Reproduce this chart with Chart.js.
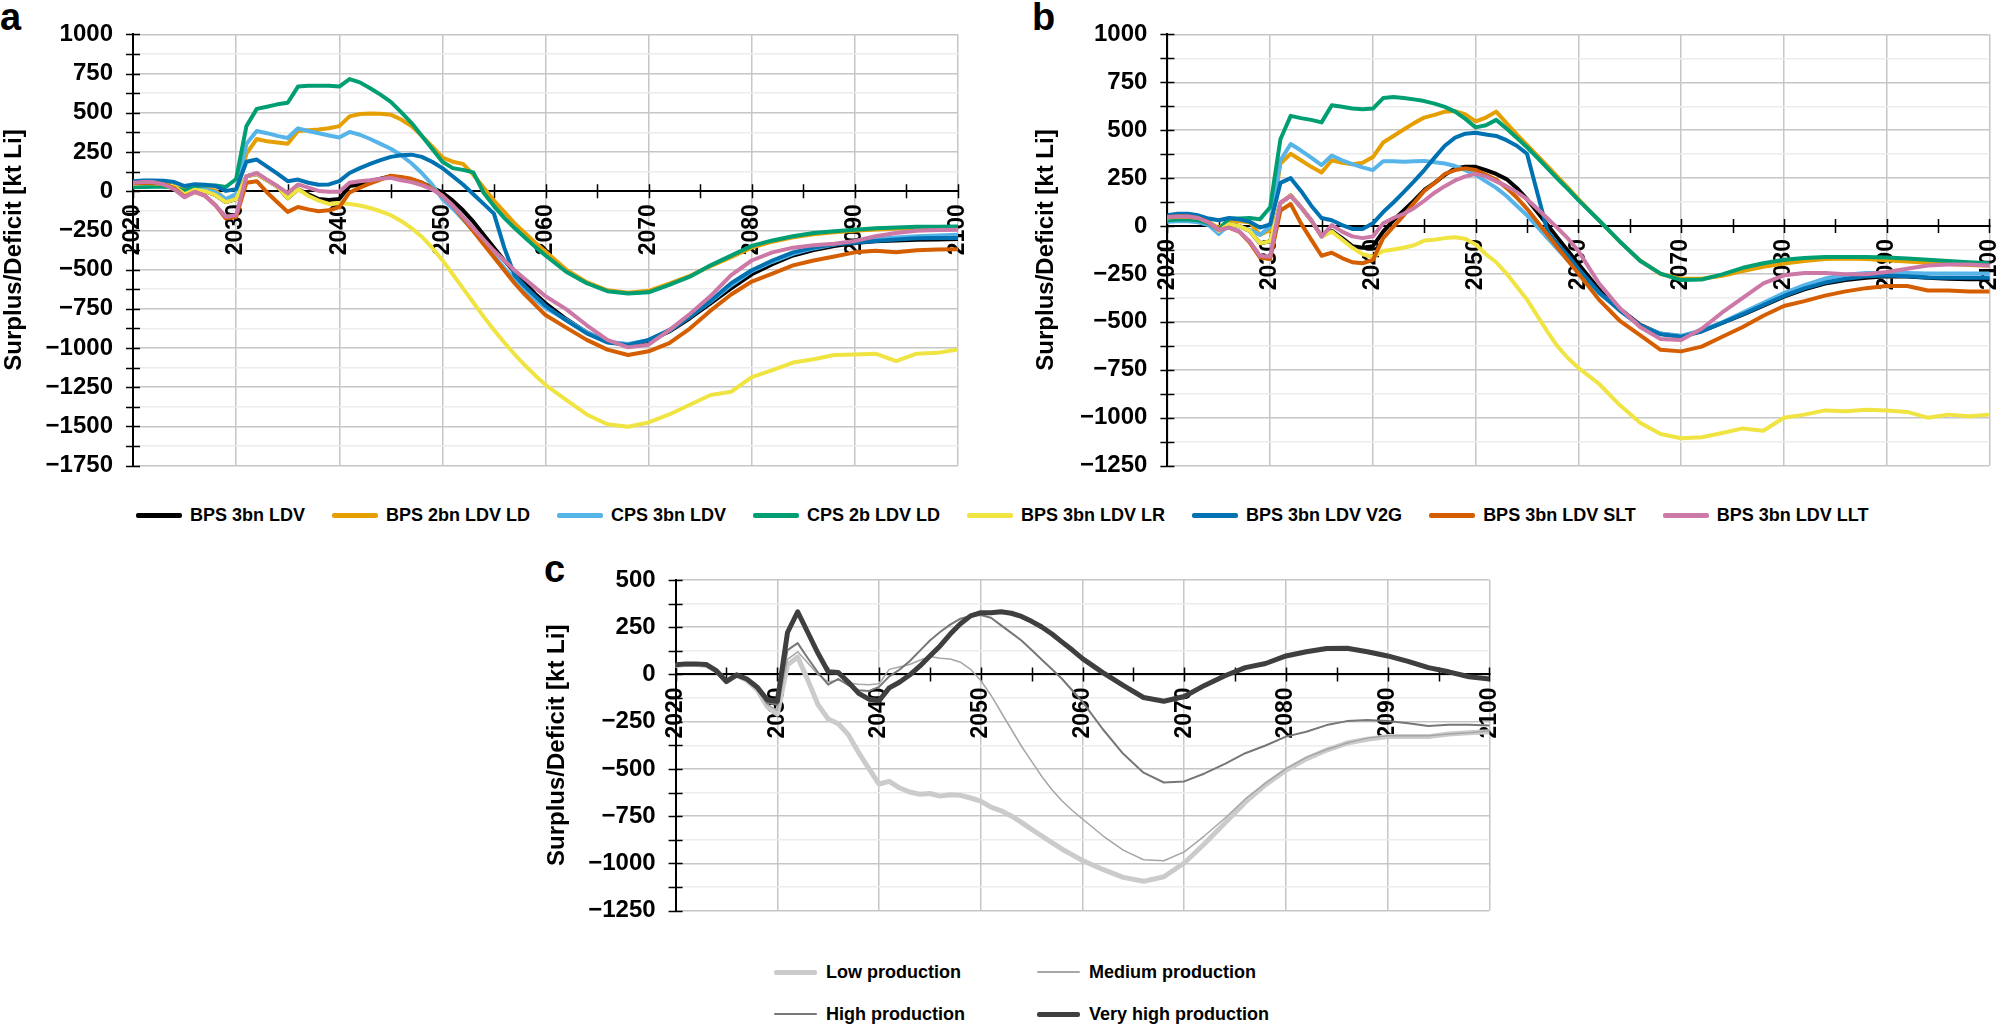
<!DOCTYPE html>
<html>
<head>
<meta charset="utf-8">
<script src="https://cdn.jsdelivr.net/npm/chart.js@4.4.1/dist/chart.umd.min.js"></script>
<style>
html,body{margin:0;padding:0;background:#fff;overflow:hidden;width:2002px;height:1024px;}
body{position:relative;font-family:"Liberation Sans",Arial,Helvetica,sans-serif;font-weight:bold;color:#000;}
canvas{position:absolute;}
.plabel{position:absolute;font-size:38px;font-weight:bold;line-height:1;}
.legendTop{position:absolute;left:136px;top:503px;height:24px;display:flex;align-items:center;gap:27px;font-size:18px;white-space:nowrap;}
.legendC{position:absolute;left:774px;top:960px;display:grid;grid-template-columns:263px auto;row-gap:18px;font-size:18px;white-space:nowrap;}
.item{display:flex;align-items:center;height:24px;line-height:24px;}
.sw{border-radius:2px;}
</style>
</head>
<body>
<div class="plabel" style="left:0px;top:-2px;">a</div>
<div class="plabel" style="left:1032px;top:-2px;">b</div>
<div class="plabel" style="left:544px;top:550px;">c</div>
<canvas id="ca" width="1000" height="500" style="left:0px;top:0px;width:1000px;height:500px;"></canvas>
<canvas id="cb" width="1030" height="500" style="left:1000px;top:0px;width:1030px;height:500px;"></canvas>
<canvas id="cc" width="1000" height="400" style="left:530px;top:545px;width:1000px;height:400px;"></canvas>
<div id="legTop" class="legendTop"></div>
<div id="legC" class="legendC"></div>
<script>
// ---------- DATA ----------
const years = [2020,2021,2022,2023,2024,2025,2026,2027,2028,2029,2030,
  2031,2032,2033,2034,2035,2036,2037,2038,2039,2040,
  2041,2042,2043,2044,2045,2046,2047,2048,2049,2050,
  2051,2052,2053,2054,2055,2056,2057,2058,2059,2060,
  2062,2064,2066,2068,2070,2072,2074,2076,2078,2080,2082,2084,2086,2088,2090,2092,2094,2096,2098,2100];

const labelsAB = ['BPS 3bn LDV','BPS 2bn LDV LD','CPS 3bn LDV','CPS 2b LDV LD','BPS 3bn LDV LR','BPS 3bn LDV V2G','BPS 3bn LDV SLT','BPS 3bn LDV LLT'];
const labelsC = ['Low production','Medium production','High production','Very high production'];
const yTitle = 'Surplus/Deficit [kt Li]';

// Panel a
const aBlack = [48,50,50,45,30,-20,10,0,-25,-70,-50,
  95,110,70,30,-45,12,-20,-50,-56,-50,
  33,43,64,80,95,85,74,54,23,-8,
  -60,-122,-194,-277,-360,-442,-514,-587,-655,-715,
  -815,-900,-960,-980,-955,-895,-810,-715,-620,-530,-465,-410,-375,-350,-330,-320,-315,-310,-308,-305];
const aOrange = [38,40,40,35,25,10,20,15,5,-55,-25,
  240,333,318,310,302,384,388,393,401,415,
  477,492,496,494,488,457,415,353,285,215,
  188,174,105,23,-60,-132,-205,-267,-329,-385,
  -500,-580,-632,-648,-635,-590,-540,-478,-420,-360,-322,-294,-274,-262,-252,-244,-238,-234,-232,-230];
const aLightBlue = [43,44,44,40,25,-29,23,12,-8,-50,-19,
  302,384,370,353,339,401,384,370,355,343,
  378,360,333,302,271,229,178,116,43,-50,
  -110,-180,-250,-330,-410,-490,-560,-630,-690,-745,
  -820,-900,-960,-975,-950,-890,-800,-705,-600,-510,-450,-400,-365,-340,-320,-305,-295,-288,-282,-277];
const aGreen = [27,27,29,29,23,2,33,37,37,27,78,
  415,525,539,554,564,667,673,673,673,667,
  715,694,657,616,570,504,436,353,271,188,
  147,136,120,-10,-95,-170,-235,-295,-355,-410,
  -514,-587,-638,-653,-645,-597,-545,-473,-411,-349,-314,-287,-267,-256,-246,-236,-231,-227,-226,-225];
const aYellow = [48,50,50,45,30,-20,10,0,-25,-70,-50,
  95,110,70,30,-45,12,-29,-60,-81,-76,
  -81,-91,-107,-128,-153,-190,-235,-290,-360,-440,
  -530,-620,-710,-800,-885,-965,-1040,-1110,-1175,-1235,
  -1331,-1424,-1486,-1502,-1475,-1424,-1362,-1300,-1279,-1186,-1141,-1093,-1072,-1045,-1041,-1036,-1083,-1036,-1031,-1010];
const aBlue = [64,68,68,66,58,33,45,41,33,2,12,
  188,202,157,112,64,74,54,41,43,64,
  116,147,174,198,219,229,233,219,188,147,
  95,43,-19,-81,-143,-360,-535,-607,-669,-731,
  -824,-907,-965,-980,-948,-886,-803,-700,-587,-504,-442,-390,-360,-339,-329,-318,-308,-300,-298,-298];
const aSLT = [50,52,52,45,20,-35,-5,-30,-90,-174,-165,
  54,64,-8,-70,-132,-101,-116,-128,-122,-101,
  -8,23,50,74,99,91,79,54,17,-29,
  -91,-174,-256,-339,-421,-504,-587,-659,-725,-790,
  -870,-948,-1010,-1045,-1021,-969,-876,-762,-659,-576,-525,-473,-442,-417,-390,-380,-390,-376,-372,-370];
const aPink = [54,58,58,43,12,-39,-4,-29,-91,-163,-153,
  95,116,74,33,-12,43,23,2,-4,-4,
  54,64,70,79,85,70,58,39,12,-29,
  -91,-163,-236,-308,-380,-442,-504,-560,-615,-670,
  -752,-855,-948,-996,-979,-886,-783,-669,-535,-442,-390,-360,-345,-335,-318,-287,-267,-252,-248,-246];

// Panel b
const bBlack = [45,48,48,43,28,-25,10,0,-25,-90,-80,
  120,160,98,30,-54,-25,-63,-105,-113,-105,
  -29,30,81,132,188,225,267,301,309,309,
  292,272,245,199,140,73,5,-63,-130,-198,
  -330,-430,-515,-562,-575,-548,-505,-462,-415,-368,-330,-300,-282,-270,-262,-263,-270,-275,-277,-278];
const bOrange = [35,38,38,33,20,-10,30,25,20,-46,-20,
  326,377,343,309,279,343,330,323,330,360,
  436,470,504,537,566,580,597,600,583,546,
  566,597,537,478,424,368,313,255,199,140,
  30,-80,-180,-250,-275,-275,-260,-235,-212,-195,-182,-172,-170,-172,-178,-185,-192,-198,-203,-207];
const bLightBlue = [22,25,25,20,5,-42,5,-3,-20,-46,-3,
  343,428,394,357,318,368,343,323,306,292,
  338,338,336,338,340,333,326,313,292,267,
  233,199,157,106,56,-3,-63,-122,-181,-240,
  -350,-434,-519,-561,-573,-544,-502,-451,-401,-350,-308,-274,-254,-245,-245,-245,-247,-248,-248,-248];
const bGreen = [30,34,34,30,14,-20,39,39,42,35,98,
  453,575,563,554,541,630,622,613,610,613,
  668,673,668,661,652,639,622,597,559,515,
  526,554,509,461,411,357,301,245,191,135,
  30,-79,-181,-248,-282,-279,-252,-218,-194,-176,-167,-161,-161,-161,-164,-169,-176,-183,-189,-194];
const bYellow = [45,48,48,43,28,-25,10,0,-25,-90,-80,
  120,160,98,30,-54,-29,-71,-113,-147,-160,
  -130,-122,-113,-100,-76,-71,-63,-59,-66,-96,
  -147,-189,-248,-316,-384,-468,-552,-630,-690,-740,
  -823,-933,-1026,-1085,-1107,-1102,-1080,-1056,-1068,-1000,-984,-962,-967,-958,-963,-970,-1000,-984,-992,-984];
const bBlue = [56,64,64,56,39,30,42,35,22,-8,8,
  225,250,183,106,42,30,5,-15,-15,14,
  73,123,177,233,292,357,419,461,482,487,
  478,470,448,419,377,174,-29,-96,-155,-223,
  -345,-440,-520,-565,-578,-550,-505,-460,-412,-365,-325,-295,-275,-262,-258,-262,-268,-270,-270,-270];
const bSLT = [47,50,50,42,19,-20,-8,-29,-85,-164,-172,
  81,115,14,-71,-155,-139,-167,-189,-194,-177,
  -63,-3,56,120,183,225,272,292,301,292,
  267,242,199,149,90,22,-46,-113,-181,-248,
  -384,-493,-569,-646,-654,-629,-578,-527,-468,-417,-392,-363,-341,-324,-313,-313,-336,-336,-341,-341];
const bPink = [47,50,50,42,19,-20,-8,-29,-79,-155,-160,
  123,157,98,30,-54,5,-29,-54,-63,-54,
  14,42,64,93,132,174,208,238,259,272,
  259,233,208,177,140,90,39,-12,-66,-130,
  -299,-426,-527,-590,-595,-536,-451,-375,-299,-257,-245,-245,-252,-252,-240,-223,-206,-201,-201,-206];

// Panel c
const cLow = [48,53,53,48,20,-40,-5,-30,-80,-170,-210,
  50,92,-30,-160,-236,-261,-320,-414,-498,-580,
  -566,-600,-622,-634,-630,-644,-637,-640,-654,-671,
  -702,-722,-749,-783,-820,-855,-890,-925,-955,-985,
  -1032,-1074,-1095,-1071,-998,-896,-786,-676,-583,-507,-447,-400,-363,-343,-329,-329,-329,-315,-308,-303];
const cMedium = [49,54,54,49,20,-38,-4,-28,-78,-160,-190,
  80,120,60,0,-40,-30,-45,-52,-55,-49,
  27,40,53,75,95,86,82,65,27,-32,
  -110,-200,-290,-380,-460,-540,-610,-670,-720,-765,
  -854,-930,-981,-986,-939,-854,-761,-659,-575,-498,-439,-397,-363,-337,-325,-325,-325,-315,-308,-298];
const cHigh = [50,55,55,50,20,-37,-2,-30,-75,-150,-160,
  129,166,86,10,-54,-24,-58,-83,-88,-66,
  -10,25,70,125,180,225,264,295,310,315,
  300,260,220,180,130,78,28,-24,-85,-145,
  -290,-420,-520,-572,-566,-524,-473,-417,-376,-329,-303,-268,-247,-241,-247,-258,-273,-266,-266,-270];
const cVeryHigh = [51,56,56,53,20,-37,-2,-24,-66,-134,-142,
  222,332,222,112,14,10,-41,-100,-131,-139,
  -71,-41,-3,44,98,151,214,268,310,327,
  327,332,324,307,281,251,214,171,129,84,
  10,-58,-122,-142,-117,-58,-7,36,58,98,120,137,139,120,98,69,36,14,-12,-24];

// ---------- STYLE ----------
const colorsAB = ['#000000','#E69F00','#56B4E9','#009E73','#F0E442','#0072B2','#D55E00','#CC79A7'];
const widthsAB = [4,4,4,4,4,4,4,4];
const colorsC = ['#cbcbcb','#a6a6a6','#777777','#3f3f3f'];
const widthsC = [5,1.5,2,5];
const FONT = '"Liberation Sans", Arial, Helvetica, sans-serif';
const GRID = '#c6c6c6';
const MINOR = '#ececec';

const crossTicks = {
  id: 'crossTicks',
  beforeDatasetsDraw(chart) {
    const ctx = chart.ctx, x = chart.scales.x, y = chart.scales.y;
    const left = chart.chartArea.left;
    const zeroY = y.getPixelForValue(0);
    ctx.save();
    ctx.strokeStyle = '#000';
    ctx.lineWidth = 1.5;
    ctx.beginPath();
    y.ticks.forEach(t => { const py = Math.round(y.getPixelForValue(t.value)) + 0.5; ctx.moveTo(left - 7, py); ctx.lineTo(left + 7, py); });
    x.ticks.forEach(t => { const px = Math.round(x.getPixelForValue(t.value)) + 0.5; ctx.moveTo(px, zeroY - 7); ctx.lineTo(px, zeroY + 7); });
    ctx.stroke();
    ctx.restore();
  }
};

function panel(id, series, labels, colors, widths, yMin, yMax, pad, yWidth) {
  const n = series.length;
  const datasets = series.map((vals, i) => ({
    label: labels[i],
    data: years.map((yr, k) => ({x: yr, y: vals[k]})),
    borderColor: colors[i],
    backgroundColor: colors[i],
    borderWidth: widths[i],
    pointRadius: 0,
    pointHoverRadius: 0,
    tension: 0,
    fill: false,
    order: n - i,
    borderJoinStyle: 'round',
    borderCapStyle: 'round'
  }));
  return new Chart(document.getElementById(id), {
    type: 'line',
    data: {datasets},
    options: {
      responsive: false,
      animation: false,
      devicePixelRatio: 1,
      layout: {padding: pad},
      plugins: {legend: {display: false}, tooltip: {enabled: false}},
      scales: {
        x: {
          type: 'linear', position: {y: 0}, min: 2020, max: 2100,
          ticks: {stepSize: 5, autoSkip: false, maxRotation: 90, minRotation: 90, padding: 13,
            color: '#000', font: {family: FONT, size: 23, weight: 'bold'},
            callback: v => (v % 10 === 0 ? String(v) : '')},
          grid: {color: c => (c.tick && c.tick.value % 10 === 0 ? GRID : 'rgba(0,0,0,0)'), lineWidth: 1.5, drawTicks: false},
          border: {display: true, color: '#000', width: 2}
        },
        y: {
          type: 'linear', min: yMin, max: yMax,
          afterFit: s => { s.width = yWidth; },
          ticks: {stepSize: 125, autoSkip: false, padding: 20, color: '#000',
            font: {family: FONT, size: 24, weight: 'bold'},
            callback: v => (v % 250 === 0 ? String(v).replace('-', '\u2212') : '')},
          grid: {color: c => (c.tick && c.tick.value % 250 === 0 ? GRID : MINOR), lineWidth: 1.5, drawTicks: false},
          border: {display: true, color: '#000', width: 2},
          title: {display: true, text: yTitle, color: '#000', font: {family: FONT, size: 24, weight: 'bold'}, padding: 0}
        }
      }
    },
    plugins: [crossTicks]
  });
}

panel('ca', [aBlack,aOrange,aLightBlue,aGreen,aYellow,aBlue,aSLT,aPink], labelsAB, colorsAB, widthsAB,
  -1750, 1000, {left: 0, top: 31, right: 42, bottom: 25.7}, 133);
panel('cb', [bBlack,bOrange,bLightBlue,bGreen,bYellow,bBlue,bSLT,bPink], labelsAB, colorsAB, widthsAB,
  -1250, 1000, {left: 32, top: 31, right: 37.7, bottom: 25.7}, 135.4);
panel('cc', [cLow,cMedium,cHigh,cVeryHigh], labelsC, colorsC, widthsC,
  -1250, 500, {left: 13, top: 35, right: 28, bottom: 20}, 132.6);

function legend(el, labels, colors, heights, swW, gap) {
  labels.forEach((lab, i) => {
    const it = document.createElement('div');
    it.className = 'item';
    const sw = document.createElement('div');
    sw.className = 'sw';
    sw.style.width = swW + 'px';
    sw.style.height = heights[i] + 'px';
    sw.style.background = colors[i];
    sw.style.marginRight = gap + 'px';
    const tx = document.createElement('span');
    tx.textContent = lab;
    it.appendChild(sw);
    it.appendChild(tx);
    el.appendChild(it);
  });
}
legend(document.getElementById('legTop'), labelsAB, colorsAB, [5,5,5,5,5,5,5,5], 46, 8);
legend(document.getElementById('legC'), labelsC, colorsC, [5,1.5,2,5], 43, 9);
</script>
</body>
</html>
